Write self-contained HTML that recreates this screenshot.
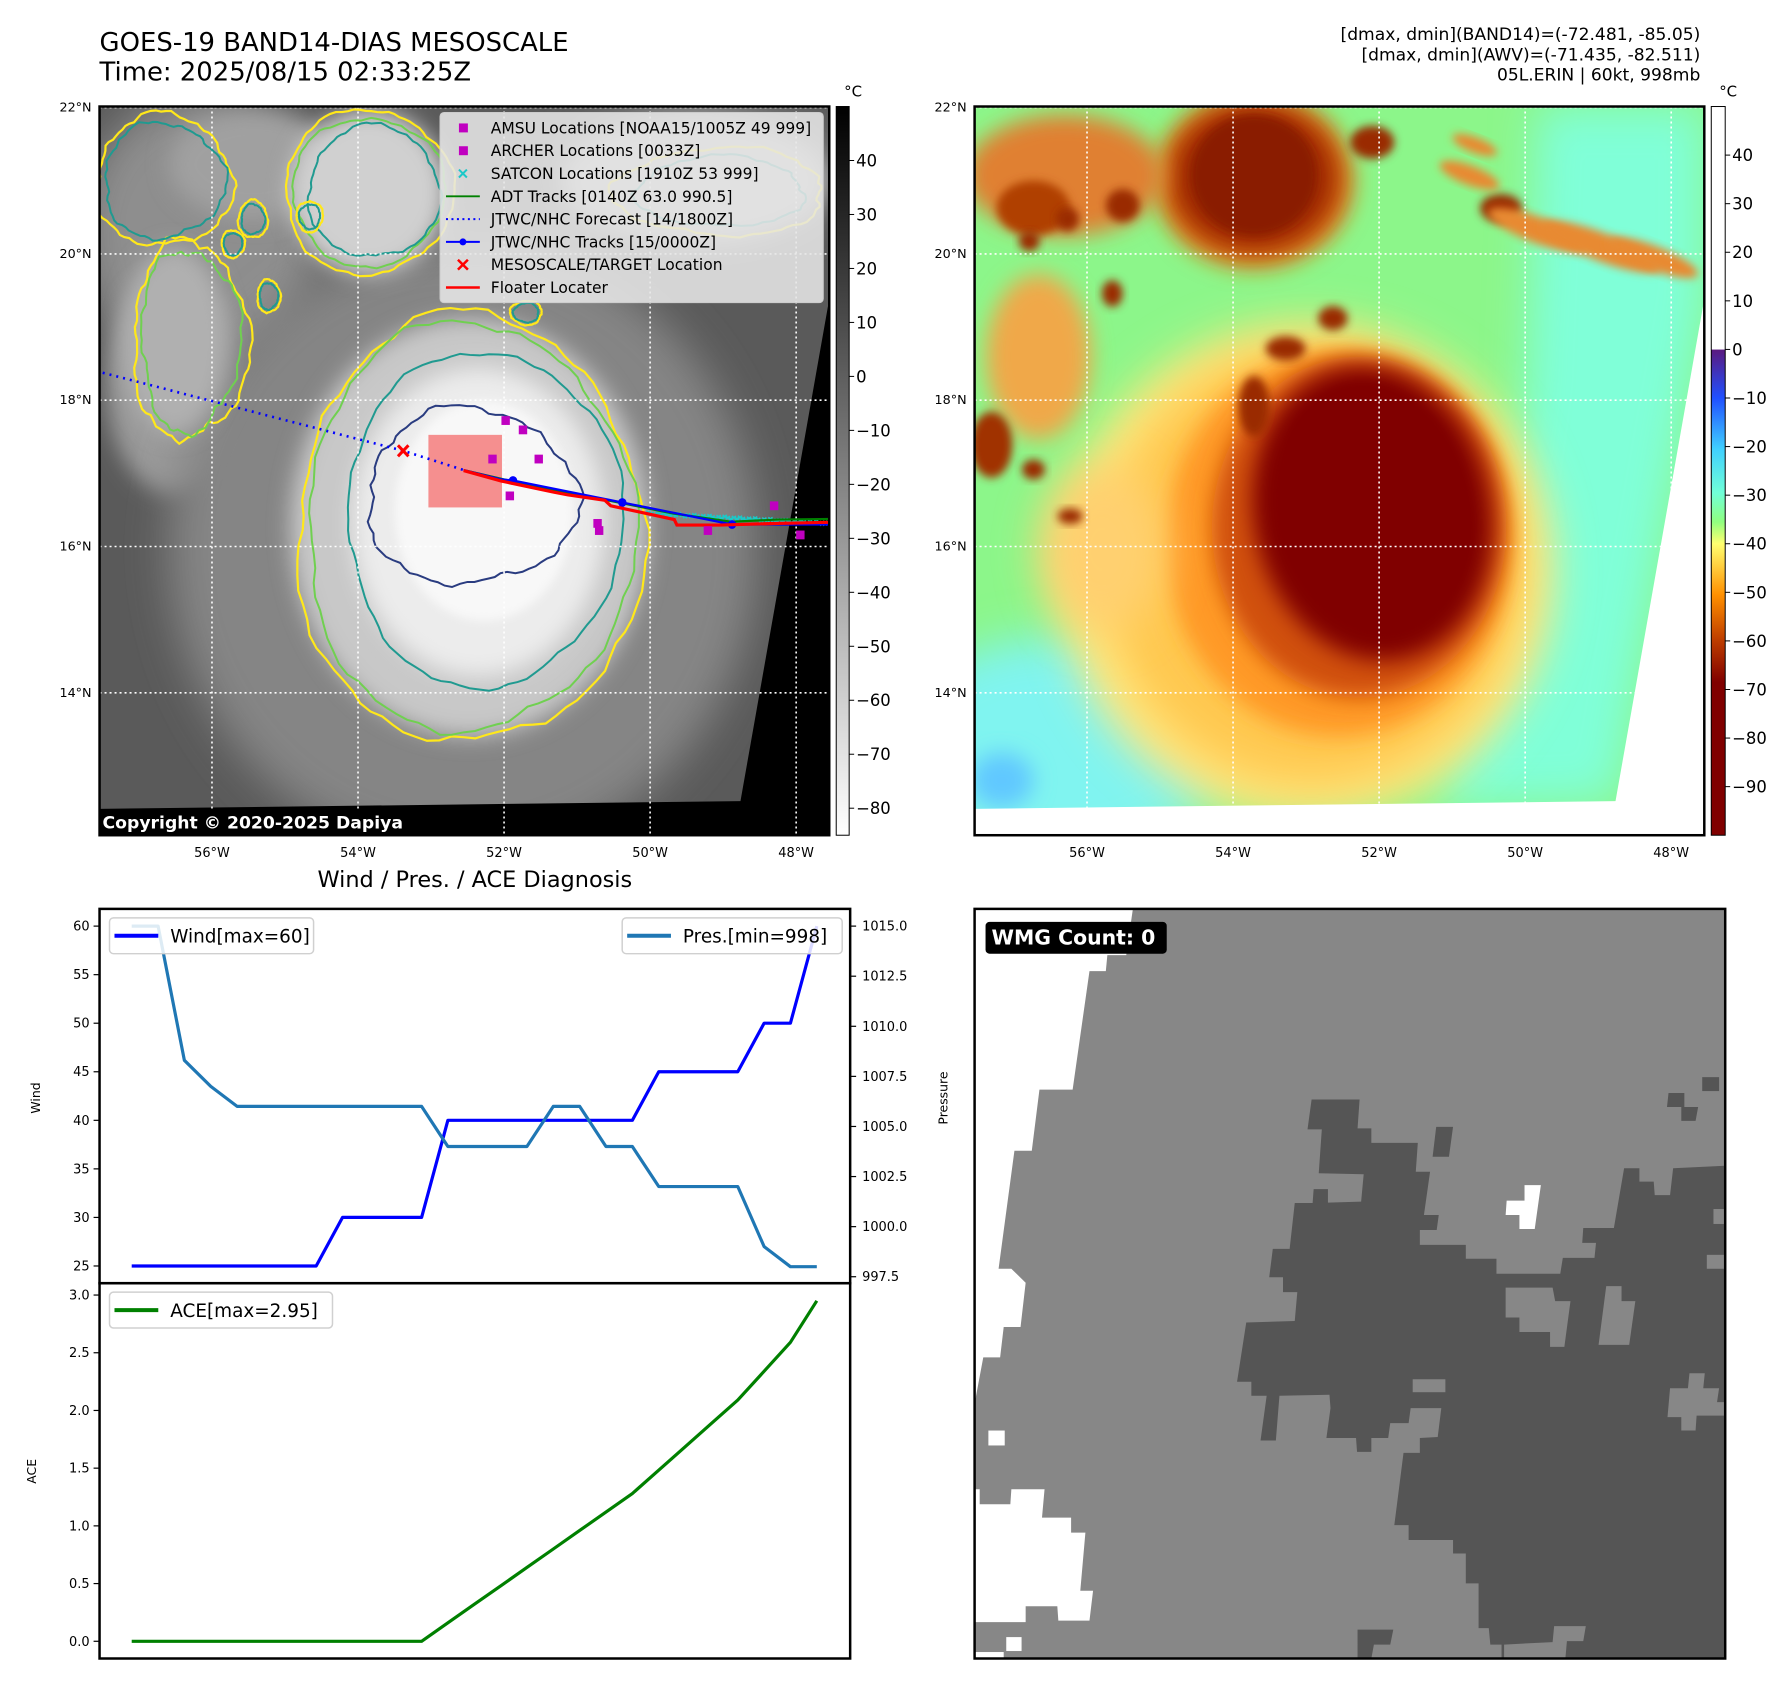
<!DOCTYPE html>
<html><head><meta charset="utf-8"><style>
html,body{margin:0;padding:0;background:#fff}
svg{display:block}
text{font-family:"DejaVu Sans","Liberation Sans",sans-serif}
</style></head><body>
<svg id="root" width="1792" height="1695" viewBox="0 0 1792 1695" xmlns="http://www.w3.org/2000/svg">
<defs>
<filter id="b8" x="-30%" y="-30%" width="160%" height="160%"><feGaussianBlur stdDeviation="8"/></filter>
<filter id="b20" x="-40%" y="-40%" width="180%" height="180%"><feGaussianBlur stdDeviation="20"/></filter>
<filter id="b40" x="-50%" y="-50%" width="200%" height="200%"><feGaussianBlur stdDeviation="40"/></filter>
<linearGradient id="cbGray" x1="0" y1="0" x2="0" y2="1"><stop offset="0" stop-color="#000"/><stop offset="1" stop-color="#fff"/></linearGradient>
<linearGradient id="cbColor" x1="0" y1="0" x2="0" y2="1">
<stop offset="0" stop-color="#fff"/><stop offset="0.333" stop-color="#fff"/><stop offset="0.334" stop-color="#5a1a80"/>
<stop offset="0.40" stop-color="#2050ff"/><stop offset="0.47" stop-color="#40d0ff"/><stop offset="0.53" stop-color="#70ffd8"/>
<stop offset="0.57" stop-color="#90ff80"/><stop offset="0.60" stop-color="#ffff70"/><stop offset="0.67" stop-color="#ff9000"/>
<stop offset="0.73" stop-color="#c04000"/><stop offset="0.79" stop-color="#800000"/><stop offset="1" stop-color="#800000"/></linearGradient>
</defs>
<g transform="scale(0.9955)">
<!-- Titles -->
<text x="100" y="51" font-size="26">GOES-19 BAND14-DIAS MESOSCALE</text>
<text x="100" y="81" font-size="26">Time: 2025/08/15 02:33:25Z</text>
<g font-size="17.2" text-anchor="end">
<text x="1708" y="40">[dmax, dmin](BAND14)=(-72.481, -85.05)</text>
<text x="1708" y="61">[dmax, dmin](AWV)=(-71.435, -82.511)</text>
<text x="1708" y="81">05L.ERIN | 60kt, 998mb</text>
</g>

<!-- MAP 1 -->
<svg id="map1" x="100" y="107" width="733" height="732" viewBox="8 195 1389 1325" preserveAspectRatio="none">
<rect x="8" y="195" width="1389" height="1325" fill="#5a5a5a"/>
<g id="m1clouds"></g>
<polygon points="1397,545 1397,1520 8,1520 8,1472 1228,1458" fill="#000"/>
<g id="m1contours"></g>
<g id="m1grid"></g>
<g id="m1tracks"></g>
</svg>
<rect x="100" y="107" width="733" height="732" fill="none" stroke="#000" stroke-width="2.5"/>
<rect x="100" y="813" width="310" height="26" fill="#000"/>
<text x="103" y="832" font-size="17.3" font-weight="bold" fill="#fff">Copyright © 2020-2025 Dapiya</text>

<!-- legend map1 -->
<g>
<rect x="442" y="113" width="385" height="191" rx="4" fill="#e6e6e6" fill-opacity="0.88" stroke="#ccc"/>
<g font-size="15.6" id="legtext"></g>
</g>

<!-- MAP 2 -->
<svg id="map2" x="979" y="107" width="733" height="732" viewBox="8 195 1389 1325" preserveAspectRatio="none">
<rect x="8" y="195" width="1389" height="1325" fill="#8cf68a"/>
<g id="m2clouds"></g>
<polygon points="1397,545 1397,1520 8,1520 8,1472 1228,1458" fill="#fff"/>
<g id="m2grid"></g>
</svg>
<rect x="979" y="107" width="733" height="732" fill="none" stroke="#000" stroke-width="2.5"/>

<!-- colorbars -->
<rect x="840" y="107" width="13" height="732" fill="url(#cbGray)" stroke="#000" stroke-width="1"/>
<rect x="1719" y="107" width="14" height="732" fill="url(#cbColor)" stroke="#000" stroke-width="1"/>
<text x="848" y="97" font-size="15">°C</text>
<text x="1727" y="97" font-size="15">°C</text>
<g id="cbticks" font-size="16.5"></g>
<g id="maplabels" font-size="13"></g>

<!-- Diagnosis chart -->
<text x="477" y="891" font-size="22.5" text-anchor="middle">Wind / Pres. / ACE Diagnosis</text>
<g id="chart"></g>
<rect x="100" y="913" width="754" height="376" fill="none" stroke="#000" stroke-width="2.5"/>
<rect x="100" y="1289" width="754" height="377" fill="none" stroke="#000" stroke-width="2.5"/>
<text transform="translate(40,1103) rotate(-90)" font-size="12.5" text-anchor="middle">Wind</text>
<text transform="translate(36,1478) rotate(-90)" font-size="12.5" text-anchor="middle">ACE</text>
<text transform="translate(952,1103) rotate(-90)" font-size="12.5" text-anchor="middle">Pressure</text>

<!-- WMG panel -->
<svg x="979" y="913" width="754" height="753" viewBox="8 17 1470 1506" preserveAspectRatio="none">
<rect x="8" y="17" width="1470" height="1506" fill="#878787"/>
<g fill="#fff">
<polygon points="8,17 318,17 305,110 268,110 265,142 233,142 200,380 135,380 120,503 86,503 55,740 80,740 108,768 98,857 65,857 58,918 25,918 10,1000 8,1000"/>
<polygon points="8,1183 18,1183 18,1213 78,1213 80,1183 145,1183 140,1240 197,1240 197,1270 225,1270 215,1387 240,1387 233,1447 172,1447 170,1418 108,1418 108,1450 8,1450"/>
<rect x="35" y="1065" width="32" height="30"/><rect x="70" y="1480" width="30" height="28"/><rect x="8" y="1510" width="57" height="13"/>
<polygon points="1085,572 1117,572 1105,660 1075,660 1075,632 1048,632 1050,603 1085,603"/>
</g>
<g fill="#555">
<polygon points="668,400 762,400 758,458 785,458 785,487 876,487 872,545 900,545 888,632 917,632 913,662 880,662 880,692 970,692 970,720 1030,720 1030,750 1155,750 1160,718 1222,718 1225,688 1198,688 1200,658 1260,658 1280,538 1310,538 1310,565 1338,565 1340,592 1370,592 1376,538 1478,533 1478,1523 1040,1523 1040,1495 1018,1495 1015,1462 995,1462 995,1372 970,1372 970,1312 945,1312 945,1285 858,1285 858,1255 830,1255 848,1110 880,1110 880,1080 915,1078 922,1020 862,1020 858,1050 822,1050 818,1080 785,1080 785,1108 757,1108 755,1080 697,1080 705,1020 703,993 605,995 598,1085 568,1085 580,995 550,995 550,967 522,967 540,848 635,845 640,787 612,787 612,757 585,757 592,700 625,700 635,608 670,608 672,580 700,580 700,607 765,605 770,550 682,548 688,460 660,460"/>
<polygon points="912,455 945,455 937,515 905,515"/>
<polygon points="1367,387 1398,387 1398,415 1425,415 1420,443 1392,443 1392,415 1364,415"/>
<rect x="1433" y="355" width="33" height="28"/>
<polygon points="758,1465 828,1465 822,1495 790,1495 785,1523 758,1523"/>
</g>
<g fill="#878787">
<polygon points="1048,778 1140,778 1145,805 1175,805 1163,897 1135,897 1135,867 1075,867 1075,838 1048,838"/>
<polygon points="1245,775 1275,775 1275,805 1302,805 1290,893 1230,893"/>
<rect x="866" y="962" width="64" height="26"/>
<polygon points="1408,950 1438,950 1435,980 1466,980 1462,1008 1478,1008 1478,1035 1422,1035 1420,1065 1392,1065 1392,1038 1365,1038 1370,980 1405,980"/>
<rect x="1455" y="620" width="23" height="30"/><rect x="1442" y="712" width="36" height="28"/>
<polygon points="1143,1458 1205,1458 1200,1488 1168,1488 1165,1523 1045,1523 1045,1495 1140,1490"/>
</g>
</svg>
<rect x="979" y="913" width="754" height="753" fill="none" stroke="#000" stroke-width="2.5"/>
<rect x="990" y="926" width="182" height="32" rx="4" fill="#000"/>
<text x="996" y="949" font-size="20.5" font-weight="bold" fill="#fff">WMG Count: 0</text>
</g>
</svg>

<script>
// ---- Diagnosis chart data ----
const stepIndex = [0,1,2,3,4,5,6,7,8,9,10,11,12,13,14,15,16,17,18,19,20,21,22,23,24,25,26];
const windValues = [25,25,25,25,25,25,25,25,30,30,30,30,40,40,40,40,40,40,40,40,45,45,45,45,50,50,60];
const pressureValues = [1015,1015,1008.3,1007,1006,1006,1006,1006,1006,1006,1006,1006,1004,1004,1004,1004,1006,1006,1004,1004,1002,1002,1002,1002,999,998,998];
const aceValues = [0,0,0,0,0,0,0,0,0,0,0,0,0.16,0.32,0.48,0.64,0.80,0.96,1.12,1.28,1.4825,1.685,1.8875,2.09,2.34,2.59,2.95];
const windTicks = [25,30,35,40,45,50,55,60];
const pressureTicks = [997.5,1000,1002.5,1005,1007.5,1010,1012.5,1015];
const aceTicks = [0,0.5,1,1.5,2,2.5,3];
const grayCbTicks = [40,30,20,10,0,-10,-20,-30,-40,-50,-60,-70,-80];
const colorCbTicks = [40,30,20,10,0,-10,-20,-30,-40,-50,-60,-70,-80,-90];
const lonTicks = [-56,-54,-52,-50,-48];
const latTicks = [22,20,18,16,14];

const NS = "http://www.w3.org/2000/svg";
function mk(tag, attrs, parent){const e=document.createElementNS(NS,tag);for(const k in attrs)e.setAttribute(k,attrs[k]);parent.appendChild(e);return e;}
const fmtMinus = v => (v<0?"\u2212"+Math.abs(v):String(v));

const xS = i => 132.3 + (i/26)*(820.5-132.3);
const yWind = v => 930.3 + (60-v)*(1271.7-930.3)/35;
const yPres = v => 930.3 + (1015-v)*(1282.5-930.3)/17.5;
const yAce = v => 1300.9 + (3-v)*(1648.7-1300.9)/3;

const chart = document.getElementById('chart');
function ticksLeft(ticks, yf, fmt, name){
  ticks.forEach(t=>{
    const y=yf(t);
    const l=mk('line',{x1:94,x2:100,y1:y,y2:y,stroke:'#000','stroke-width':1.2},chart);
    
    
    const tx=mk('text',{x:90,y:y+4.5,'font-size':13,'text-anchor':'end'},chart);
    tx.textContent=fmt(t);
    
    
  });
}
ticksLeft(windTicks,yWind,t=>String(t),'wind');
ticksLeft(aceTicks,yAce,t=>t.toFixed(1),'ace');
pressureTicks.forEach(t=>{
  const y=yPres(t);
  const l=mk('line',{x1:854,x2:860,y1:y,y2:y,stroke:'#000','stroke-width':1.2},chart);
  
  
  const tx=mk('text',{x:866,y:y+4.5,'font-size':13},chart);
  tx.textContent=t.toFixed(1);
  
  
});
function series(vals,yf,color,name){
  const d=vals.map((v,i)=>(i?'L':'M')+xS(stepIndex[i]).toFixed(1)+','+yf(v).toFixed(1)).join(' ');
  const p=mk('path',{d:d,fill:'none',stroke:color,'stroke-width':3.2,'stroke-linejoin':'round'},chart);
  
  
}
series(windValues,yWind,'#0000ff','wind-line');
series(pressureValues,yPres,'#1f77b4','pressure-line');
series(aceValues,yAce,'#008000','ace-line');
function legend(x,y,w,label,color,name){
  const g=mk('g',{},chart);
  
  
  mk('rect',{x:x,y:y,width:w,height:36,rx:4,fill:'#fff','fill-opacity':0.85,stroke:'#d0d0d0','stroke-width':1.5},g);
  mk('line',{x1:x+5,x2:x+49,y1:y+18,y2:y+18,stroke:color,'stroke-width':4},g);
  const t=mk('text',{x:x+61,y:y+25,'font-size':18.5},g); t.textContent=label;
}
legend(110,922,205,'Wind[max=60]','#0000ff','wind-legend');
legend(625,922,221,'Pres.[min=998]','#1f77b4','pressure-legend');
legend(110,1298,224,'ACE[max=2.95]','#008000','ace-legend');

const cbg=document.getElementById('cbticks');
grayCbTicks.forEach(v=>{const y=107+(50-v)*5.422;
  mk('line',{x1:853,x2:858,y1:y,y2:y,stroke:'#000'},cbg);
  const t=mk('text',{x:860,y:y+6},cbg); t.textContent=fmtMinus(v);
  
  });
colorCbTicks.forEach(v=>{const y=107+(50-v)*4.88;
  mk('line',{x1:1733,x2:1738,y1:y,y2:y,stroke:'#000'},cbg);
  const t=mk('text',{x:1740,y:y+6},cbg); t.textContent=fmtMinus(v);
  
  });

const lonX = lon => 222+(lon+56)*139;
const latY = lat => 463+(20-lat)*133;
const ml=document.getElementById('maplabels');
[0,879].forEach(off=>{
  lonTicks.forEach(lon=>{const fx=100+off+(lonX(lon)-8)*0.5277;
    const t=mk('text',{x:fx,y:861,'text-anchor':'middle'},ml); t.textContent=Math.abs(lon)+'°W';
    
    });
  latTicks.forEach(lat=>{const fy=107+(latY(lat)-195)*0.5525;
    const t=mk('text',{x:92+off,y:fy+4,'text-anchor':'end','font-size':12.8},ml); t.textContent=lat+'°N';
    
    });
});
['m1grid','m2grid'].forEach(id=>{const g=document.getElementById(id);
  lonTicks.forEach(lon=>mk('line',{x1:lonX(lon),x2:lonX(lon),y1:195,y2:1520,stroke:'#fff','stroke-width':1.6,'stroke-dasharray':'2 3','vector-effect':'non-scaling-stroke'},g));
  latTicks.forEach(lat=>mk('line',{x1:8,x2:1397,y1:latY(lat),y2:latY(lat),stroke:'#fff','stroke-width':1.6,'stroke-dasharray':'2 3','vector-effect':'non-scaling-stroke'},g));
});

function blobPath(cx,cy,rx,ry,amp,ph,rot){
  let d='';const N=90;rot=(rot||0)*Math.PI/180;
  for(let i=0;i<=N;i++){const t=i/N*2*Math.PI;
    const r=1+amp*(Math.sin(3*t+ph)+0.5*Math.sin(7*t+2*ph)+0.3*Math.sin(17*t+ph*3)+0.2*Math.sin(29*t+ph));
    let x=rx*r*Math.cos(t), y=ry*r*Math.sin(t);
    const X=cx+x*Math.cos(rot)-y*Math.sin(rot), Y=cy+x*Math.sin(rot)+y*Math.cos(rot);
    d+=(i?'L':'M')+X.toFixed(1)+','+Y.toFixed(1);}
  return d+'Z';
}
function E(g,cx,cy,rx,ry,fill,filt,rot){const a={cx:cx,cy:cy,rx:rx,ry:ry,fill:fill};if(filt)a.filter='url(#'+filt+')';if(rot)a.transform='rotate('+rot+' '+cx+' '+cy+')';return mk('ellipse',a,g);}
function B(g,cx,cy,rx,ry,amp,ph,attrs,rot){const a=Object.assign({d:blobPath(cx,cy,rx,ry,amp,ph,rot)},attrs);return mk('path',a,g);}

const c1=document.getElementById('m1clouds');
E(c1,200,420,230,250,'#8e8e8e','b40');
E(c1,150,700,130,200,'#9a9a9a','b20');
E(c1,300,300,160,100,'#a0a0a0','b20');
E(c1,1150,320,260,120,'#8a8a8a','b40');
E(c1,700,1000,560,560,'#858585','b40');
E(c1,712,960,340,380,'#c8c8c8','b20');
E(c1,729,951,240,280,'#ececec','b20');
E(c1,740,930,170,200,'#f8f8f8','b8');
E(c1,520,350,150,150,'#d0d0d0','b20');
E(c1,1140,330,250,110,'#bcbcbc','b20');
E(c1,150,620,100,170,'#b0b0b0','b20');
const k1=document.getElementById('m1contours');
const st=(c,w)=>({fill:'none',stroke:c,'stroke-width':w,'vector-effect':'non-scaling-stroke'});
B(k1,712,965,330,390,0.03,0.5,st('#ffe81a',2.2));
B(k1,712,960,312,372,0.028,1.3,st('#70d050',2));
B(k1,740,945,262,305,0.022,2.1,st('#209a90',2));
B(k1,715,905,200,160,0.05,0.9,st('#2a3c80',2));
B(k1,520,350,160,150,0.03,1.7,st('#ffe81a',2.2));
B(k1,520,350,145,135,0.03,2.7,st('#70d050',2));
B(k1,530,350,125,120,0.035,0.3,st('#209a90',2));
B(k1,180,620,110,180,0.06,1.1,st('#ffe81a',2.2));
B(k1,180,620,95,165,0.06,2.2,st('#70d050',2));
B(k1,130,330,130,120,0.05,0.4,st('#ffe81a',2.2));
B(k1,130,330,115,105,0.05,1.4,st('#209a90',2));
[[300,400,28,34],[330,540,22,30],[262,445,22,25],[408,395,25,28],[820,570,30,22],[1190,350,200,80]].forEach((b,i)=>{
  B(k1,b[0],b[1],b[2],b[3],0.05,i,st('#ffe81a',2.2));B(k1,b[0],b[1],b[2]*0.8,b[3]*0.8,0.05,i+1,st('#209a90',2));});

const c2=document.getElementById('m2clouds');
mk('polygon',{points:'1080,195 1397,195 1397,545 1228,1458 880,1470 1000,1100 1060,700',fill:'#80ffd8',filter:'url(#b40)'},c2);
E(c2,170,1360,320,200,'#80f4f0','b40');
E(c2,60,1420,60,50,'#60c8ff','b20');
E(c2,640,1040,470,450,'#ffe880','b40');
E(c2,650,1030,400,400,'#ffc850','b40');
E(c2,700,990,330,350,'#ff9a28','b20');
E(c2,740,960,280,310,'#d05010','b20');
E(c2,765,935,225,270,'#800000','b20',-15);
E(c2,770,925,180,230,'#800000','b8',-15);
E(c2,540,330,190,160,'#e07818','b20');
E(c2,540,325,160,135,'#a02c00','b20');
E(c2,540,320,120,110,'#8a1c00','b8');
E(c2,180,320,190,110,'#e08030','b20');
E(c2,120,380,70,50,'#b04000','b8');
E(c2,130,650,100,150,'#f0a848','b20');
E(c2,40,810,40,60,'#a03000','b8');
E(c2,250,1000,120,150,'#ffd070','b40');
[[765,260,42,30],[290,375,32,30],[185,400,22,22],[112,440,20,18],[270,535,20,24],[690,580,28,22],[600,635,38,22],[540,740,30,55],[120,855,22,18],[1010,380,40,26],[190,940,24,14]].forEach(b=>E(c2,b[0],b[1],b[2],b[3],'#9a2a00','b8'));
[[950,320,60,18],[1080,420,100,24],[1200,450,120,26],[1300,470,90,22],[960,265,45,14]].forEach(b=>E(c2,b[0],b[1],b[2],b[3],'#e88a30','b8',20));

const tk=document.getElementById('m1tracks');
const nss={'vector-effect':'non-scaling-stroke'};
mk('rect',{x:634,y:792,width:140,height:132,fill:'#f58f8f'},tk);
mk('path',Object.assign({d:'M14,679 L586,821 L701,856',fill:'none',stroke:'#0000ff','stroke-width':2.6,'stroke-dasharray':'2 5'},nss),tk);
for(let i=0;i<60;i++){const x=1053+i*5.8,y=935+i*0.3+((i*7)%5)-2;mk('path',Object.assign({d:'M'+(x-4)+','+(y-3)+'l8,6m0,-6l-8,6',stroke:'#1cc8c8','stroke-width':1.5},nss),tk);}
mk('path',Object.assign({d:'M701,856 L773,872 L872,893 L970,910 L1100,935 L1210,950 L1300,946 L1398,945',fill:'none',stroke:'#008000','stroke-width':2.2},nss),tk);
mk('path',Object.assign({d:'M701,856 L773,873 L795,875 L1003,915 L1212,955 L1398,955',fill:'none',stroke:'#0000ff','stroke-width':2.2},nss),tk);
[795,1003,1212].forEach((x,i)=>mk('ellipse',{cx:x,cy:[875,915,955][i],rx:8,ry:8,fill:'#0000ff'},tk));
mk('path',Object.assign({d:'M701,857 L773,876 L872,896 L899,901 L970,911 L981,921 L1102,946 L1107,956 L1189,956 L1300,953 L1398,951',fill:'none',stroke:'#ff0000','stroke-width':3.2},nss),tk);
mk('path',Object.assign({d:'M576,811 l20,20 m0,-20 l-20,20',stroke:'#ff0000','stroke-width':3},nss),tk);
[[781,766],[814,783],[756,836],[844,836],[789,903],[956,953],[959,966],[1166,966],[1292,921],[1342,974]].forEach(p=>{
  const r=mk('rect',{x:p[0]-8,y:p[1]-8,width:16,height:16,fill:'#c000c0'},tk);
  
  });

const lg=document.getElementById('legtext');
const legLabels=['AMSU Locations [NOAA15/1005Z 49 999]','ARCHER Locations [0033Z]','SATCON Locations [1910Z 53 999]','ADT Tracks [0140Z 63.0 990.5]','JTWC/NHC Forecast [14/1800Z]','JTWC/NHC Tracks [15/0000Z]','MESOSCALE/TARGET Location','Floater Locater'];
legLabels.forEach((s,i)=>{const y=128.5+i*22.9;
  const t=mk('text',{x:493,y:y+5.5},lg); t.textContent=s;
  
  
  if(i<2) mk('rect',{x:461,y:y-4.5,width:9,height:9,fill:'#c000c0'},lg);
  if(i==2) mk('path',{d:'M461,'+(y-4)+'l8,8m0,-8l-8,8',stroke:'#1cc8c8','stroke-width':2},lg);
  if(i==3) mk('line',{x1:448,x2:482,y1:y,y2:y,stroke:'#008000','stroke-width':2},lg);
  if(i==4) mk('line',{x1:448,x2:482,y1:y,y2:y,stroke:'#0000ff','stroke-width':2,'stroke-dasharray':'2 3.5'},lg);
  if(i==5){mk('line',{x1:448,x2:482,y1:y,y2:y,stroke:'#0000ff','stroke-width':2},lg);mk('circle',{cx:465,cy:y,r:3.5,fill:'#0000ff'},lg);}
  if(i==6) mk('path',{d:'M460,'+(y-5)+'l10,10m0,-10l-10,10',stroke:'#ff0000','stroke-width':2.5},lg);
  if(i==7) mk('line',{x1:448,x2:482,y1:y,y2:y,stroke:'#ff0000','stroke-width':2.5},lg);
});
</script>
</body></html>
